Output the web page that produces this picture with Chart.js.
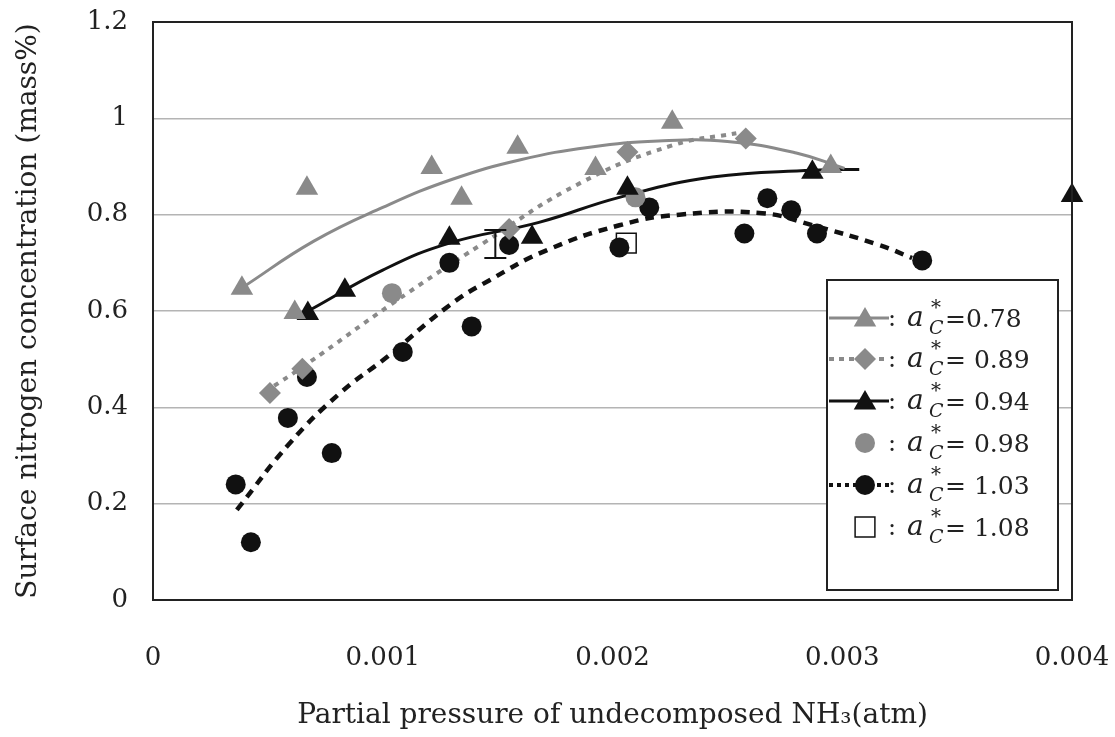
<!DOCTYPE html>
<html>
<head>
<meta charset="utf-8">
<title>Surface nitrogen concentration vs NH3 partial pressure</title>
<script src="https://cdn.jsdelivr.net/npm/chart.js@4/dist/chart.umd.min.js"></script>
<style>
  html, body { margin: 0; padding: 0; background: #fff; }
  #chart { display: block; }
</style>
</head>
<body>
<canvas id="chart" width="1115" height="737"></canvas>
<script>
// tick values and labels
const xTicks = [0, 0.001, 0.002, 0.003, 0.004];
const xTickLabels = ['0', '0.001', '0.002', '0.003', '0.004'];
const yTicks = [0, 0.2, 0.4, 0.6, 0.8, 1, 1.2];
const yTickLabels = ['0', '0.2', '0.4', '0.6', '0.8', '1', '1.2'];

// a*C = 0.78 (gray triangles + solid gray trend)
const ac078X = [0.000387, 0.000617, 0.00067, 0.001213, 0.001343, 0.001587, 0.001926, 0.00226, 0.00295];
const ac078Y = [0.647, 0.597, 0.855, 0.898, 0.834, 0.94, 0.896, 0.992, 0.90];
const ac078LineX = [0.00039, 0.0007, 0.001, 0.0013, 0.0016, 0.0019, 0.0022, 0.0025, 0.0028, 0.00301];
const ac078LineY = [0.649, 0.745, 0.815, 0.873, 0.914, 0.94, 0.953, 0.952, 0.928, 0.896];

// a*C = 0.89 (gray diamonds + dotted gray trend)
const ac089X = [0.000509, 0.00065, 0.00155, 0.002065, 0.00258];
const ac089Y = [0.43, 0.48, 0.77, 0.93, 0.958];
const ac089LineX = [0.000487, 0.00067, 0.00104, 0.001435, 0.001857, 0.002261, 0.002539];
const ac089LineY = [0.432, 0.49, 0.615, 0.74, 0.865, 0.944, 0.969];

// a*C = 0.94 (black triangles + solid black trend)
const ac094X = [0.000674, 0.000835, 0.00129, 0.00165, 0.002065, 0.00287, 0.004];
const ac094Y = [0.595, 0.643, 0.751, 0.753, 0.855, 0.888, 0.84];
const ac094LineX = [0.000683, 0.001, 0.00129, 0.00168, 0.00203, 0.002435, 0.00287, 0.003074];
const ac094LineY = [0.602, 0.685, 0.741, 0.784, 0.836, 0.878, 0.892, 0.894];

// a*C = 0.98 (gray circles)
const ac098X = [0.00104, 0.0021];
const ac098Y = [0.637, 0.836];

// a*C = 1.03 (black circles + dashed black trend)
const ac103X = [0.00036, 0.000426, 0.000587, 0.00067, 0.000778, 0.001087, 0.001387, 0.00129, 0.00155,
                0.00203, 0.00216, 0.002574, 0.002674, 0.002778, 0.00289, 0.003348];
const ac103Y = [0.24, 0.12, 0.378, 0.463, 0.305, 0.515, 0.568, 0.70, 0.737,
                0.732, 0.815, 0.761, 0.834, 0.809, 0.761, 0.705];
const ac103LineX = [0.000365, 0.000596, 0.000813, 0.001017, 0.001291, 0.001465, 0.001713, 0.00203, 0.002291, 0.002652, 0.00287, 0.003161, 0.003304];
const ac103LineY = [0.187, 0.326, 0.429, 0.504, 0.612, 0.664, 0.726, 0.778, 0.800, 0.803, 0.778, 0.737, 0.71];

// a*C = 1.08 (open square)
const ac108X = [0.00206];
const ac108Y = [0.741];

// error bar near 0.0015
const errX = [0.00149];
const errLow = [0.71];
const errHigh = [0.768];

const legendLabels = ['=0.78', '= 0.89', '= 0.94', '= 0.98', '= 1.03', '= 1.08'];

const GRAY = '#8a8a8a';
const BLACK = '#111111';
const SERIF = '"DejaVu Serif", "Liberation Serif", serif';

function pts(xs, ys) {
  return xs.map((x, i) => ({ x: x, y: ys[i] }));
}

function markerSet(label, xs, ys, style, radius, fill, border) {
  return {
    label: label,
    data: pts(xs, ys),
    showLine: false,
    pointStyle: style,
    pointRadius: radius,
    pointHoverRadius: radius,
    pointBackgroundColor: fill,
    pointBorderColor: border || fill,
    pointBorderWidth: border ? 1.5 : 0,
    clip: false,
    order: 0
  };
}

function lineSet(label, xs, ys, color, width, dash) {
  return {
    label: label,
    data: pts(xs, ys),
    showLine: true,
    borderColor: color,
    borderWidth: width,
    borderDash: dash,
    borderCapStyle: 'butt',
    tension: 0.45,
    pointRadius: 0,
    fill: false,
    clip: false,
    order: 1
  };
}

// small marker drawer for the legend
function drawMarker(ctx, style, x, y, r, fill, stroke) {
  ctx.save();
  ctx.beginPath();
  if (style === 'triangle') {
    ctx.moveTo(x, y - r);
    ctx.lineTo(x + r * 0.866, y + r * 0.5);
    ctx.lineTo(x - r * 0.866, y + r * 0.5);
    ctx.closePath();
  } else if (style === 'rectRot') {
    ctx.moveTo(x, y - r);
    ctx.lineTo(x + r, y);
    ctx.lineTo(x, y + r);
    ctx.lineTo(x - r, y);
    ctx.closePath();
  } else if (style === 'rect') {
    const s = r * Math.SQRT1_2;
    ctx.rect(x - s, y - s, 2 * s, 2 * s);
  } else {
    ctx.arc(x, y, r, 0, Math.PI * 2);
  }
  ctx.fillStyle = fill;
  ctx.fill();
  if (stroke) {
    ctx.strokeStyle = stroke;
    ctx.lineWidth = 1.5;
    ctx.stroke();
  }
  ctx.restore();
}

const legendRows = [
  { line: GRAY, width: 3, dash: [], marker: 'triangle', r: 13, fill: GRAY },
  { line: GRAY, width: 4, dash: [5, 5], marker: 'rectRot', r: 11, fill: GRAY },
  { line: BLACK, width: 3, dash: [], marker: 'triangle', r: 13, fill: BLACK },
  { line: null, marker: 'circle', r: 10, fill: GRAY },
  { line: BLACK, width: 4, dash: [4, 4], marker: 'circle', r: 10, fill: BLACK },
  { line: null, marker: 'rect', r: 14, fill: '#fff', stroke: BLACK }
];

// frame, error bar and legend
const extrasPlugin = {
  id: 'extras',
  afterDatasetsDraw(chart) {
    const ctx = chart.ctx;
    const xs = chart.scales.x;
    const ys = chart.scales.y;
    // error bar
    ctx.save();
    ctx.strokeStyle = BLACK;
    ctx.lineWidth = 2;
    errX.forEach((v, i) => {
      const px = xs.getPixelForValue(v);
      const lo = ys.getPixelForValue(errLow[i]);
      const hi = ys.getPixelForValue(errHigh[i]);
      ctx.beginPath();
      ctx.moveTo(px, lo); ctx.lineTo(px, hi);
      ctx.moveTo(px - 11, lo); ctx.lineTo(px + 11, lo);
      ctx.moveTo(px - 11, hi); ctx.lineTo(px + 11, hi);
      ctx.stroke();
    });
    ctx.restore();
  },
  afterDraw(chart) {
    const ctx = chart.ctx;
    const a = chart.chartArea;
    ctx.save();
    // plot frame
    ctx.strokeStyle = '#222';
    ctx.lineWidth = 2;
    ctx.strokeRect(a.left, a.top, a.right - a.left, a.bottom - a.top);

    // legend box
    const bx = 827, by = 280, bw = 231, bh = 310;
    ctx.fillStyle = '#fff';
    ctx.fillRect(bx, by, bw, bh);
    ctx.strokeStyle = '#222';
    ctx.lineWidth = 2;
    ctx.strokeRect(bx, by, bw, bh);

    const rowY = [318, 359, 401, 443, 485, 527];
    legendRows.forEach((row, i) => {
      const y = rowY[i];
      if (row.line) {
        ctx.save();
        ctx.strokeStyle = row.line;
        ctx.lineWidth = row.width;
        ctx.setLineDash(row.dash);
        ctx.beginPath();
        ctx.moveTo(829, y);
        ctx.lineTo(889, y);
        ctx.stroke();
        ctx.restore();
      }
      drawMarker(ctx, row.marker, 865, y + (row.marker === 'triangle' ? 2 : 0), row.r, row.fill, row.stroke);

      ctx.fillStyle = '#222';
      ctx.textBaseline = 'alphabetic';
      ctx.textAlign = 'left';
      ctx.font = '24px ' + SERIF;
      ctx.fillText(':', 888, y + 8);
      ctx.font = 'italic 28px ' + SERIF;
      ctx.fillText('a', 907, y + 8);
      ctx.font = '20px ' + SERIF;
      ctx.fillText('*', 931, y - 4);
      ctx.font = 'italic 19px ' + SERIF;
      ctx.fillText('C', 929, y + 16);
      ctx.font = '25px ' + SERIF;
      ctx.fillText(legendLabels[i], 945, y + 9);
    });
    ctx.restore();
  }
};

const chart = new Chart(document.getElementById('chart'), {
  type: 'scatter',
  data: {
    datasets: [
      markerSet('a*C=0.78', ac078X, ac078Y, 'triangle', 13, GRAY),
      markerSet('a*C=0.89', ac089X, ac089Y, 'rectRot', 11, GRAY),
      markerSet('a*C=0.94', ac094X, ac094Y, 'triangle', 13, BLACK),
      markerSet('a*C=0.98', ac098X, ac098Y, 'circle', 10, GRAY),
      markerSet('a*C=1.03', ac103X, ac103Y, 'circle', 10, BLACK),
      markerSet('a*C=1.08', ac108X, ac108Y, 'rect', 14, '#ffffff', BLACK),
      lineSet('trend 0.78', ac078LineX, ac078LineY, GRAY, 3, []),
      lineSet('trend 0.89', ac089LineX, ac089LineY, GRAY, 4, [5, 6]),
      lineSet('trend 0.94', ac094LineX, ac094LineY, BLACK, 3, []),
      lineSet('trend 1.03', ac103LineX, ac103LineY, BLACK, 4.5, [9, 7])
    ]
  },
  options: {
    responsive: false,
    devicePixelRatio: 1,
    animation: false,
    layout: { padding: { top: 22, right: 43, left: 0, bottom: 0 } },
    plugins: {
      legend: { display: false },
      tooltip: { enabled: false }
    },
    scales: {
      x: {
        type: 'linear',
        min: xTicks[0],
        max: xTicks[xTicks.length - 1],
        afterBuildTicks: s => { s.ticks = xTicks.map(v => ({ value: v })); },
        afterFit: s => { s.height = 137; s.paddingLeft = 0; s.paddingRight = 0; },
        grid: { display: false, drawTicks: false },
        border: { display: false },
        ticks: {
          padding: 43,
          color: '#222',
          font: { family: SERIF, size: 26 },
          maxRotation: 0,
          callback: (v, i) => xTickLabels[i]
        },
        title: {
          display: true,
          text: 'Partial pressure of undecomposed NH₃(atm)',
          color: '#222',
          font: { family: SERIF, size: 28 },
          padding: { top: 0, bottom: 4 }
        }
      },
      y: {
        type: 'linear',
        min: yTicks[0],
        max: yTicks[yTicks.length - 1],
        afterBuildTicks: s => { s.ticks = yTicks.map(v => ({ value: v })); },
        afterFit: s => { s.width = 153; s.paddingTop = 0; s.paddingBottom = 0; },
        grid: { color: '#b4b4b4', lineWidth: 1.5, drawTicks: false },
        border: { display: false },
        ticks: {
          padding: 25,
          color: '#222',
          font: { family: SERIF, size: 26 },
          callback: (v, i) => yTickLabels[i]
        },
        title: {
          display: true,
          text: 'Surface nitrogen concentration (mass%)',
          color: '#222',
          font: { family: SERIF, size: 28 },
          padding: { top: 12, bottom: 0 }
        }
      }
    }
  },
  plugins: [extrasPlugin]
});
</script>
</body>
</html>
